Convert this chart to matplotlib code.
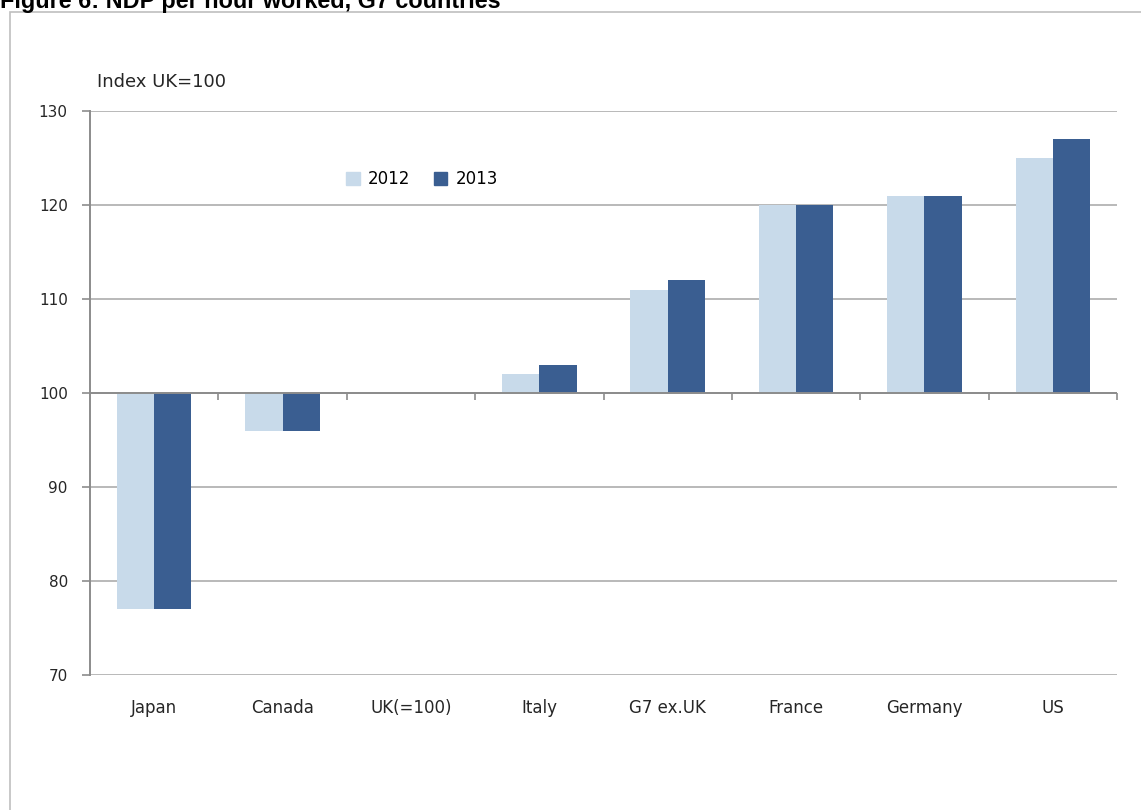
# NDP per hour worked, G7 countries (index UK=100), 2012 vs 2013
import matplotlib.pyplot as plt
from matplotlib.patches import Rectangle, Patch

COUNTRIES = ["Japan", "Canada", "UK(=100)", "Italy", "G7 ex.UK", "France", "Germany", "US"]
VALUES_2012 = [77, 96, 100, 102, 111, 120, 121, 125]
VALUES_2013 = [77, 96, 100, 103, 112, 120, 121, 127]
YTICKS = [70, 80, 90, 100, 110, 120, 130]

BASE = 100  # bars hang off the UK=100 line
LIGHT = "#C8DAEA"
DARK = "#3A5E91"
GRID = "#A6A6A6"

fig = plt.figure(figsize=(11.41, 8.1), dpi=100)
plt.rcParams["font.family"] = ["DejaVu Sans"]

# title, mostly cut off at the top edge like the source image
fig.text(0.0, 1 - 8 / 810, "Figure 6: NDP per hour worked, G7 countries",
         fontsize=16.8, fontweight="bold", family="Liberation Sans",
         ha="left", va="baseline", color="black")

# outer frame of the chart object
fig.patches.append(Rectangle((10 / 1141, -0.1), 1.2, 1.1 - 12 / 810,
                             transform=fig.transFigure, fill=False,
                             edgecolor="#BFBFBF", linewidth=1.2))

ax = fig.add_axes([90 / 1141, 1 - 675 / 810, (1117 - 90) / 1141, (675 - 111) / 810])
x = list(range(len(COUNTRIES)))
w = 0.29
ax.bar([i - w / 2 for i in x], [v - BASE for v in VALUES_2012], w, bottom=BASE,
       color=LIGHT, label="2012", zorder=3)
ax.bar([i + w / 2 for i in x], [v - BASE for v in VALUES_2013], w, bottom=BASE,
       color=DARK, label="2013", zorder=3)

ax.set_xlim(-0.5, len(COUNTRIES) - 0.5)
ax.set_ylim(70, 130)
ax.set_yticks(YTICKS)
ax.yaxis.grid(True, color=GRID, linewidth=1.1, zorder=0)
ax.axhline(BASE, color="#8C8C8C", linewidth=1.4, zorder=4)

for s in ["top", "right", "bottom"]:
    ax.spines[s].set_visible(False)
ax.spines["left"].set_color("#8C8C8C")
ax.spines["left"].set_linewidth(1.4)

ax.tick_params(axis="y", direction="out", length=6, width=1.2, color="#8C8C8C",
               pad=10, labelsize=11, labelcolor="#262626")
ax.set_xticks(x)
ax.set_xticklabels(COUNTRIES)
ax.tick_params(axis="x", length=0, pad=17, labelsize=12, labelcolor="#262626")

# category tick marks sit on the 100 line, pointing down
sec = ax.secondary_xaxis(0.5)
sec.set_xticks([i + 0.5 for i in x])
sec.set_xticklabels([])
sec.tick_params(axis="x", direction="in", length=5, width=1.2, color="#8C8C8C")
sec.spines["bottom"].set_visible(False)
sec.spines["top"].set_visible(False)

fig.text(97 / 1141, 1 - 87 / 810, "Index UK=100", fontsize=13, color="#262626")

ax.legend(handles=[Patch(color=LIGHT, label="2012"), Patch(color=DARK, label="2013")],
          loc="center left", bbox_to_anchor=(0.235, 0.879), ncol=2, frameon=False,
          fontsize=12, handlelength=0.8, handleheight=0.8, columnspacing=1.4,
          handletextpad=0.5)

fig.savefig("out.png", dpi=100)
